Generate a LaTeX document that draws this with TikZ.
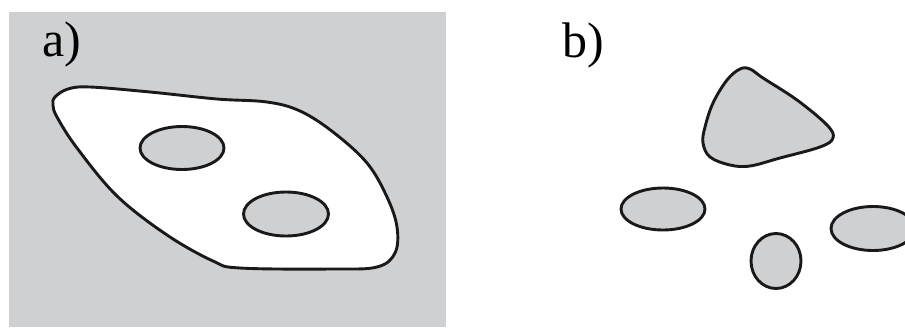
\documentclass[tikz,border=0pt]{standalone}
\usepackage{fontspec}
\setmainfont{Liberation Serif}
\definecolor{graybg}{RGB}{207,208,210}
\begin{document}
\begin{tikzpicture}[x=1pt,y=-1pt,
  outline/.style={line width=2.9pt, draw=black!90},
  lbl/.style={font=\fontsize{50}{50}\selectfont, inner sep=0pt, anchor=base west}]
\useasboundingbox (0,0) rectangle (905,327);
\clip (0,0) rectangle (905,327);
% panel a background
\fill[graybg] (9,12) rectangle (446,327);
\node[lbl] (la) at (42,56) {a)};
% blob a
\draw[outline, fill=white] plot[smooth cycle, tension=0.6] coordinates {
  (55,97) (68,89) (90,87) (150,92) (217,99) (267,102) (300,111)
  (333,132) (367,163) (387,197) (397,227) (395,253) (377,267)
  (333,269) (240,268) (213,261) (167,235) (117,196) (77,148) (57,117) (53,105)};
\draw[outline, fill=graybg] (182,148) ellipse [x radius=42, y radius=21.5];
\draw[outline, fill=graybg] (286,214) ellipse [x radius=42.5, y radius=22];
% panel b
\node[lbl] (lb) at (562,57) {b)};
\draw[outline, fill=graybg] plot[smooth cycle, tension=0.6] coordinates {
  (740,69) (727,80) (713,103) (705,127) (703,143) (710,157) (730,165)
  (750,166) (780,158) (820,147) (833,138) (827,125) (797,100) (763,78) (750,69)};
\draw[outline, fill=graybg] (663,209) ellipse [x radius=42, y radius=21];
\draw[outline, fill=graybg] (776,261) ellipse [x radius=25, y radius=27.5];
\draw[outline, fill=graybg] (873,228.5) ellipse [x radius=42, y radius=22];
\end{tikzpicture}
\end{document}
